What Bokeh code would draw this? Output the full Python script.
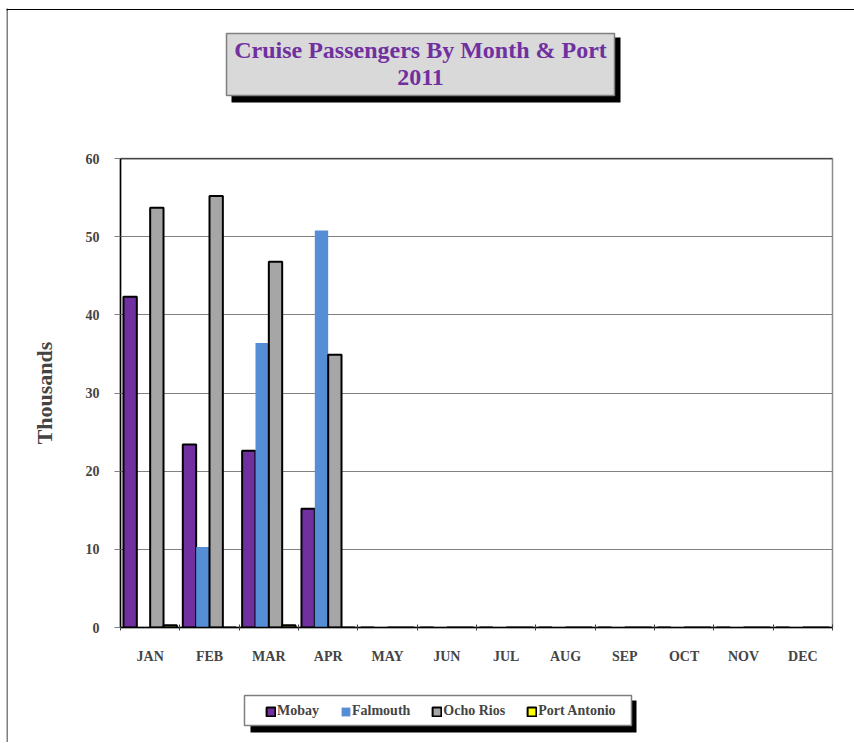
from bokeh.plotting import figure
from bokeh.layouts import row, column
from bokeh.models import (ColumnDataSource, Range1d, LinearAxis, FixedTicker, Legend,
                          LegendItem, Span, Div)
from bokeh.core.properties import value
from bokeh.transform import dodge
from bokeh.embed import file_html
from bokeh.resources import INLINE

months = ["JAN", "FEB", "MAR", "APR", "MAY", "JUN", "JUL", "AUG", "SEP", "OCT", "NOV", "DEC"]
mobay = [42.3, 23.4, 22.6, 15.2, None, None, None, None, None, None, None, None]
falmouth = [None, 10.3, 36.4, 50.8, None, None, None, None, None, None, None, None]
ocho_rios = [53.7, 55.2, 46.8, 34.9, None, None, None, None, None, None, None, None]
port_antonio = [0.3, None, 0.3, None, None, None, None, None, None, None, None, None]
series_names = ["Mobay", "Falmouth", "Ocho Rios", "Port Antonio"]
series_colors = ["#7030A0", "#558ED5", "#A6A6A6", "#FFFF00"]
series_lines = ["black", None, "black", "black"]
y_ticks = [0, 10, 20, 30, 40, 50, 60]
title_lines = ["Cruise Passengers By Month & Port", "2011"]
y_title = "Thousands"

FONT = "Liberation Serif"
PAGE_W = 854
STRIP_W = 8
COL_W = PAGE_W - STRIP_W
TOP_H, TITLE_H, MAIN_H, LEG_H = 10, 100, 570, 62
TOTAL_H = TOP_H + TITLE_H + MAIN_H + LEG_H
BL, BR = 112, 22              # left/right borders shared by the stacked figures
FX0, FX1 = STRIP_W + BL, PAGE_W - BR   # frame edges in page pixels


def panel_fig(h, yr, w=COL_W, xr=(FX0, FX1), bl=BL, br=BR):
    f = figure(width=w, height=h, x_range=Range1d(*xr), y_range=Range1d(*yr),
               output_backend="svg", toolbar_location=None, x_axis_location=None,
               y_axis_location=None, min_border_left=bl, min_border_right=br,
               min_border_top=0, min_border_bottom=0)
    f.grid.visible = False
    f.outline_line_color = None
    f.background_fill_color = "white"
    f.border_fill_color = "white"
    return f


# ---- left page border strip
strip = panel_fig(TOTAL_H, (TOTAL_H, 0), w=STRIP_W, xr=(0, STRIP_W), bl=0, br=0)
strip.quad(left=[6], right=[7.6], top=[9], bottom=[TOTAL_H], fill_color="#7F7F7F",
           line_color=None)
strip.quad(left=[6], right=[8], top=[8.3], bottom=[9.8], fill_color="black", line_color=None)

# ---- top page border line
top_line = Div(text="", width=COL_W, height=TOP_H, margin=0,
               styles={"border-bottom": "1.5px solid black", "box-sizing": "border-box"})

# ---- title panel
ty0 = TOP_H
tf = panel_fig(TITLE_H, (ty0 + TITLE_H, ty0))
tf.quad(left=[231], right=[620], top=[37], bottom=[102], fill_color="black", line_color=None)
tf.quad(left=[226], right=[614], top=[33], bottom=[95], fill_color="#D9D9D9",
        line_color="#7F7F7F", line_width=1.5)
tf.text(x=[420, 420], y=[49.5, 76.5], text=title_lines, text_align="center",
        text_baseline="alphabetic", text_font=value(FONT), text_font_style="bold",
        text_font_size="24px", text_color="#7030A0")

# ---- main chart
n = len(months)
centers = [i + 0.5 for i in range(n)]
src = ColumnDataSource(dict(month=months, xc=centers, mobay=mobay, falmouth=falmouth,
                            ocho=ocho_rios, pa=port_antonio))

p = figure(width=COL_W, height=MAIN_H, x_range=Range1d(0, n), y_range=Range1d(0, 60),
           output_backend="svg", toolbar_location=None, x_axis_location=None,
           y_axis_location=None, min_border_left=BL, min_border_right=BR,
           min_border_top=48, min_border_bottom=53)
p.outline_line_color = "#8C8C8C"
p.outline_line_width = 1.5
p.xgrid.visible = False
p.background_fill_color = "white"
p.border_fill_color = "white"

bw = 0.225
offs = [-0.3375, -0.1125, 0.1125, 0.3375]
cols = ["mobay", "falmouth", "ocho", "pa"]
for i, c in enumerate(cols):
    p.vbar(x=dodge("xc", offs[i]), top=c, width=bw, source=src,
           fill_color=series_colors[i], line_color=series_lines[i], line_width=2)

yax = LinearAxis(ticker=FixedTicker(ticks=y_ticks), axis_label=y_title,
                 axis_line_color="black", axis_line_width=1.5,
                 major_tick_out=6, major_tick_in=0, major_tick_line_color="#808080",
                 minor_tick_line_color=None,
                 major_label_text_font=FONT, major_label_text_font_style="bold",
                 major_label_text_font_size="14px", major_label_standoff=15,
                 axis_label_text_font=FONT, axis_label_text_font_style="bold",
                 axis_label_text_font_size="22px", axis_label_standoff=26)
p.add_layout(yax, "left")
p.ygrid.ticker = FixedTicker(ticks=y_ticks)
p.ygrid.grid_line_color = "#808080"
p.ygrid.grid_line_width = 1

# tick marks at the category boundaries
tax = LinearAxis(ticker=FixedTicker(ticks=list(range(n + 1))),
                 axis_line_color="black", axis_line_width=1.5,
                 major_tick_in=3, major_tick_out=3, major_tick_line_color="#404040",
                 minor_tick_line_color=None,
                 major_label_overrides={k: " " for k in range(n + 1)},
                 major_label_text_font_size="1px", major_label_standoff=0)
p.add_layout(tax, "below")
# month labels at the category centres
cax = LinearAxis(ticker=FixedTicker(ticks=centers),
                 major_label_overrides={c: m for c, m in zip(centers, months)},
                 axis_line_color=None, major_tick_line_color=None,
                 minor_tick_line_color=None, major_tick_in=0, major_tick_out=0,
                 major_label_text_font=FONT, major_label_text_font_style="bold",
                 major_label_text_font_size="14px", major_label_standoff=14)
p.add_layout(cax, "below")
p.add_layout(Span(location=60, dimension="width", line_color="black", line_width=1.5))

# ---- legend panel
ly0 = TOP_H + TITLE_H + MAIN_H
lf = panel_fig(LEG_H, (TOTAL_H, ly0))
lf.quad(left=[250], right=[636], top=[700], bottom=[732], fill_color="black", line_color=None)
lf.quad(left=[244], right=[631], top=[695], bottom=[725], fill_color="white",
        line_color="#7F7F7F", line_width=1.5)
leg_rends = []
for i in range(len(series_names)):
    leg_rends.append(lf.vbar(x=[FX0], top=[float("nan")], width=1,
                             fill_color=series_colors[i],
                             line_color=series_lines[i], line_width=2))
legend = Legend(items=[LegendItem(label=nm, renderers=[r])
                       for nm, r in zip(series_names, leg_rends)],
                orientation="horizontal", location=(265 - FX0, TOTAL_H - 719),
                margin=0, padding=0,
                spacing=21, glyph_width=11, glyph_height=11, label_height=11,
                label_standoff=1, border_line_color=None, background_fill_alpha=0,
                label_text_font=FONT, label_text_font_style="bold",
                label_text_font_size="14px")
lf.add_layout(legend, "center")

layout = row(strip, column(top_line, tf, p, lf))
open("out.html", "w").write(file_html(layout, INLINE))
